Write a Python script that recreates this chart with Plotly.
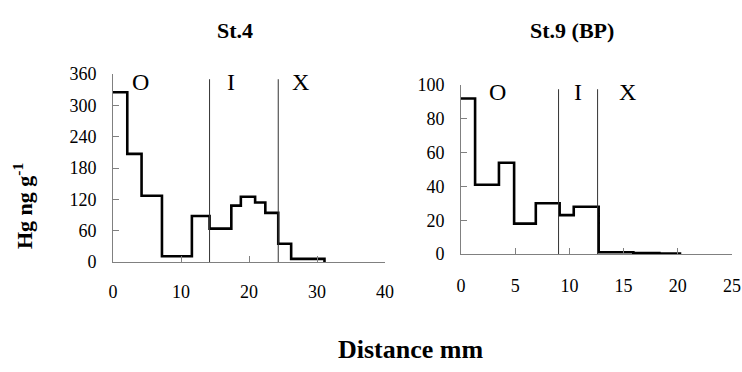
import plotly.graph_objects as go

# ---- data ----
st4_edges = [0, 2.1, 4.2, 7.2, 11.6, 14.2, 17.4, 18.8, 20.9, 22.4, 24.3, 26.2, 31.1]
st4_values = [325, 207, 127, 11, 88, 64, 108, 125, 114, 94, 35, 6]
st4_bounds = [14.2, 24.3]
st4_bound_top = 350
st4_zone_x = [4.1, 17.3, 27.5]
st4_zone_y = 345

st9_edges = [0, 1.3, 3.5, 4.9, 6.9, 9.1, 10.4, 12.7, 15.9, 18.3, 20.2]
st9_values = [92, 41, 54, 18, 30, 23, 28, 1, 0.5, 0.2]
st9_bounds = [9.0, 12.6]
st9_bound_top = 97.5
st9_zone_x = [3.4, 10.8, 15.4]
st9_zone_y = 96

zone_labels = ["O", "I", "X"]
titles = ["St.4", "St.9 (BP)"]

st4_xticks = [0, 10, 20, 30, 40]
st4_yticks = [0, 60, 120, 180, 240, 300, 360]
st9_xticks = [0, 5, 10, 15, 20, 25]
st9_yticks = [0, 20, 40, 60, 80, 100]

FONT = "Liberation Serif"
OFF = 0  # page body margin removed via post_script
W, H = 742 - 2 * OFF, 372 - 2 * OFF

fig = go.Figure()

def add_panel(edges, values, bounds, btop, xa, ya):
    fig.add_trace(go.Scatter(x=edges, y=values + [0], mode="lines", line_shape="hv",
                             line=dict(color="black", width=2.6), xaxis=xa, yaxis=ya,
                             showlegend=False, hoverinfo="skip"))
    for b in bounds:
        fig.add_trace(go.Scatter(x=[b, b], y=[0, btop], mode="lines",
                                 line=dict(color="#333333", width=1), xaxis=xa, yaxis=ya,
                                 showlegend=False, hoverinfo="skip"))

add_panel(st4_edges, st4_values, st4_bounds, st4_bound_top, "x", "y")
add_panel(st9_edges, st9_values, st9_bounds, st9_bound_top, "x2", "y2")

axis_common = dict(showgrid=False, zeroline=False, showline=True, linecolor="#808080",
                   linewidth=1, ticks="inside", ticklen=6, tickcolor="#808080",
                   automargin=False, ticklabeloverflow="allow",
                   tickfont=dict(family=FONT, size=18, color="black"))

def fx(p):
    return (p - OFF) / W

def fy(p):
    return 1 - (p - OFF) / H

def px_dom_x(a, b):
    return [fx(a), fx(b)]

def px_dom_y(top, bottom):
    return [fy(bottom), fy(top)]

fig.update_layout(
    width=W, height=H, margin=dict(l=0, r=0, t=0, b=0, autoexpand=False),
    paper_bgcolor="white", plot_bgcolor="white",
    xaxis=dict(domain=px_dom_x(113, 385), range=[0, 40], tickvals=st4_xticks,
               ticklabelstandoff=13, anchor="y", **axis_common),
    yaxis=dict(domain=px_dom_y(74, 262), range=[0, 360], tickvals=st4_yticks,
               ticklabelstandoff=12, anchor="x", **axis_common),
    xaxis2=dict(domain=px_dom_x(461, 732), range=[0, 25], tickvals=st9_xticks,
                ticklabelstandoff=15, anchor="y2", **axis_common),
    yaxis2=dict(domain=px_dom_y(85, 254), range=[0, 100], tickvals=st9_yticks,
                ticklabelstandoff=12, anchor="x2", **axis_common),
)

ann = []
for xs, yv, xr, yr in [(st4_zone_x, st4_zone_y, "x", "y"), (st9_zone_x, st9_zone_y, "x2", "y2")]:
    for xv, lab in zip(xs, zone_labels):
        ann.append(dict(x=xv, y=yv, xref=xr, yref=yr, text=lab, showarrow=False,
                        xanchor="center", yanchor="middle",
                        font=dict(family=FONT, size=24, color="black")))

def paper_text(x, y, text, size, angle=0):
    return dict(x=fx(x), y=fy(y), xref="paper", yref="paper", text=text, textangle=angle,
                xanchor="center", yanchor="middle", showarrow=False,
                font=dict(family=FONT, size=size, color="black"))

ann.append(paper_text(235, 30, "<b>" + titles[0] + "</b>", 22))
ann.append(paper_text(572, 30, "<b>" + titles[1] + "</b>", 22))
ann.append(paper_text(23, 206, "<b>Hg ng g<sup>-1</sup></b>", 22, -90))
ann.append(paper_text(410, 349, "<b>Distance mm</b>", 26))
fig.update_layout(annotations=ann)

fig.write_html("out.html", config={"displayModeBar": False},
               post_script="document.body.style.margin='0';document.body.style.overflow='hidden';")
